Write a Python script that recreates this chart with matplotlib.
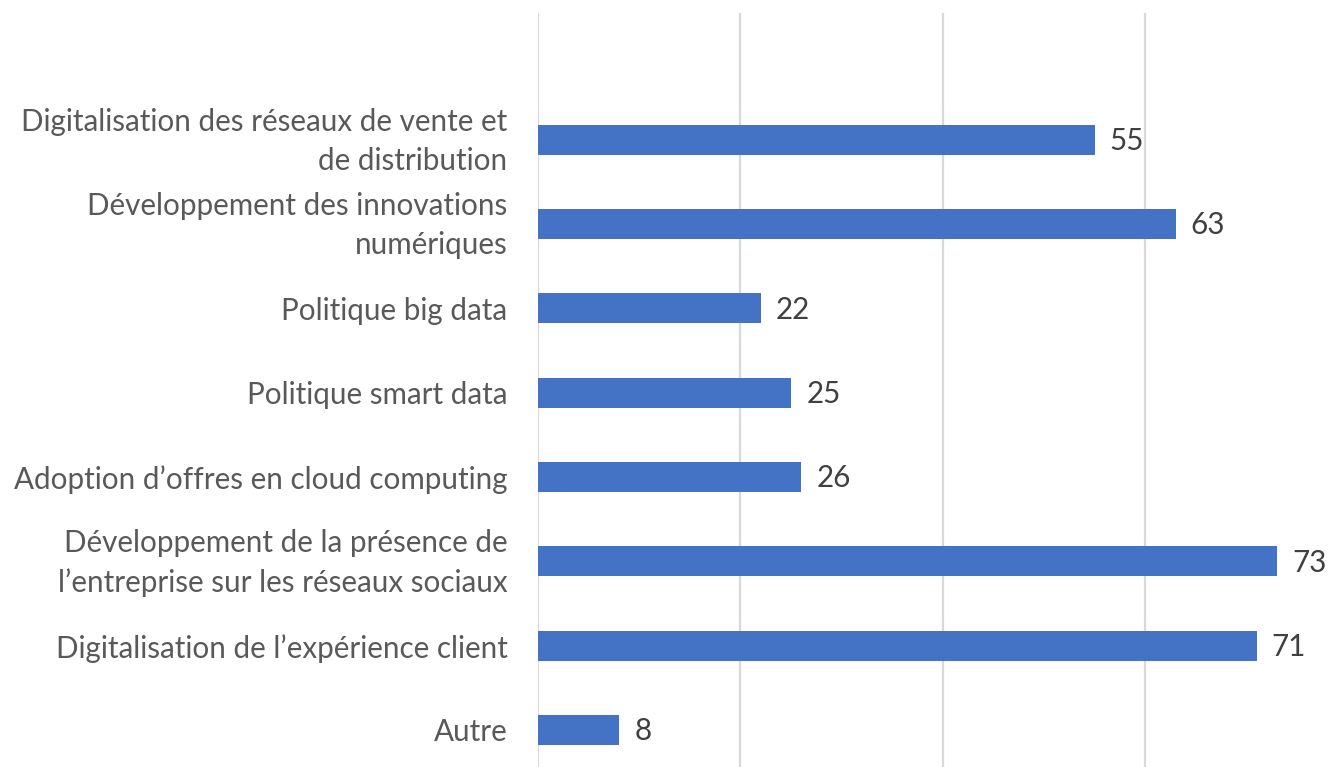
import matplotlib
matplotlib.use("Agg")
import matplotlib.pyplot as plt
import matplotlib.transforms as mtransforms

categories = [
    "Digitalisation des réseaux de vente et\nde distribution",
    "Développement des innovations\nnumériques",
    "Politique big data",
    "Politique smart data",
    "Adoption d’offres en cloud computing",
    "Développement de la présence de\nl’entreprise sur les réseaux sociaux",
    "Digitalisation de l’expérience client",
    "Autre",
]
values = [55, 63, 22, 25, 26, 73, 71, 8]
grid_ticks = [0, 20, 40, 60]

plt.rcParams['font.family'] = ['Lato', 'DejaVu Sans']

W, H = 1332, 767
fig = plt.figure(figsize=(W / 100, H / 100), dpi=100)
left_px, top_px = 538, 13
ax = fig.add_axes([left_px / W, 0, 1 - left_px / W, 1 - top_px / H])

ypos = list(range(len(categories)))
ax.barh(ypos, values, height=0.356, color="#4472C4", zorder=3)

ax.set_xticks(grid_ticks)
ax.set_xticklabels([])
ax.tick_params(axis='x', length=0)
ax.grid(axis='x', color="#D9D9D9", linewidth=1.6, zorder=0)
ax.set_axisbelow(True)

px_per_unit = 10.12
ax.set_xlim(0, (W - left_px) / px_per_unit)
ax.set_ylim(7 + (H - 730) / 84.3, -1.5)

ax.set_yticks(ypos)
ax.set_yticklabels(categories, fontsize=21.3, color="#595959", linespacing=1.47,
                   ha='right')
ax.tick_params(axis='y', length=0, pad=22)

shift = mtransforms.ScaledTranslation(0, 6 / 100, fig.dpi_scale_trans)
for lab in ax.get_yticklabels():
    if "\n" in lab.get_text():
        lab.set_transform(lab.get_transform() + shift)

for s in ax.spines.values():
    s.set_visible(False)

for y, v in zip(ypos, values):
    ax.annotate(str(v), xy=(v, y), xytext=(11, -1), textcoords='offset points',
                va='center', ha='left', fontsize=21.3, color="#404040")

fig.savefig("out.png", dpi=100)
